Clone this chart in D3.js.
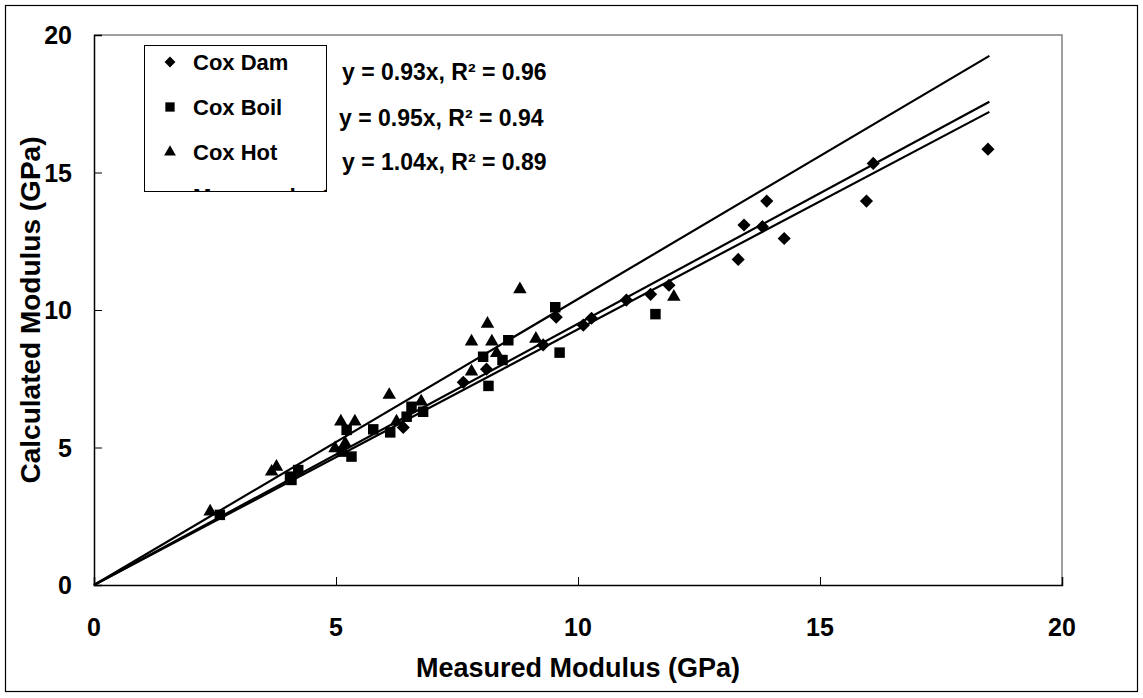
<!DOCTYPE html>
<html>
<head>
<meta charset="utf-8">
<script src="https://cdn.jsdelivr.net/npm/d3@7"></script>
<style>
  body { margin: 0; background: #fff; }
  svg { display: block; font-family: "Liberation Sans", Arial, sans-serif; font-weight: bold; }
</style>
</head>
<body>
<div class="container"></div>
<script>
// Cox Dam (diamonds)
const coxDam = [
  [6.39, 5.73], [7.63, 7.37], [8.11, 7.85], [9.28, 8.73], [9.55, 9.74],
  [10.11, 9.45], [10.28, 9.7], [11.0, 10.36], [11.5, 10.57], [11.88, 10.9],
  [13.31, 11.84], [13.43, 13.09], [13.81, 13.03], [13.9, 13.96], [14.26, 12.6],
  [15.96, 13.96], [16.1, 15.33], [18.47, 15.85]
];
// Cox Boil (squares)
const coxBoil = [
  [2.6, 2.55], [4.05, 3.94], [4.08, 3.82], [4.22, 4.18], [5.12, 4.85],
  [5.32, 4.67], [5.22, 5.64], [5.77, 5.66], [6.12, 5.55], [6.46, 6.12],
  [6.56, 6.48], [6.8, 6.3], [8.04, 8.3], [8.15, 7.24], [8.44, 8.18],
  [8.56, 8.9], [9.53, 10.1], [9.62, 8.45], [11.6, 9.85]
];
// Cox Hot (triangles)
const coxHot = [
  [2.4, 2.67], [3.67, 4.12], [3.77, 4.3], [4.98, 4.97], [5.19, 5.15],
  [5.1, 5.94], [5.39, 5.94], [6.25, 5.94], [6.1, 6.91], [6.76, 6.67],
  [7.8, 8.85], [7.8, 7.76], [8.13, 9.5], [8.22, 8.85], [8.32, 8.43],
  [8.8, 10.75], [9.13, 8.95], [11.98, 10.48]
];
// trendline slopes (through origin) and labels
const slopes = [1.04, 0.95, 0.93];
const trendEnd = 18.5;
const equations = ["y = 0.93x, R\u00b2 = 0.96", "y = 0.95x, R\u00b2 = 0.94", "y = 1.04x, R\u00b2 = 0.89"];
const seriesNames = ["Cox Dam", "Cox Boil", "Cox Hot"];
const ticks = [0, 5, 10, 15, 20];

const W = 1143, H = 698;
const plot = {left: 94, right: 1062, top: 35, bottom: 585};

const svg = d3.select("div.container").append("svg")
    .attr("width", W)
    .attr("height", H);

//outer frame
svg.append("rect")
    .attr("x", 5.5).attr("y", 5.5)
    .attr("width", 1132).attr("height", 686)
    .attr("fill", "none").attr("stroke", "#000").attr("stroke-width", 1.2);

const x = d3.scaleLinear().domain([0, 20]).range([plot.left, plot.right]);
const y = d3.scaleLinear().domain([0, 20]).range([plot.bottom, plot.top]);

//plot border top/right grey
svg.append("path")
    .attr("d", `M${plot.left},${plot.top}H${plot.right}V${plot.bottom}`)
    .attr("fill", "none").attr("stroke", "#808080").attr("stroke-width", 1.5);

//axes with inside ticks
const xAxis = svg.append("g")
    .attr("transform", `translate(0,${plot.bottom})`)
    .call(d3.axisTop(x).tickValues(ticks).tickSize(8).tickFormat(""));
const yAxis = svg.append("g")
    .attr("transform", `translate(${plot.left},0)`)
    .call(d3.axisRight(y).tickValues(ticks).tickSize(8).tickFormat(""));
[xAxis, yAxis].forEach(g => {
    g.select(".domain").attr("stroke", "#000").attr("stroke-width", 1.5);
    g.selectAll(".tick line").attr("stroke", "#000");
});

svg.append("g").selectAll("text")
    .data(ticks).enter().append("text")
    .attr("x", d => x(d))
    .attr("y", plot.bottom + 51)
    .attr("text-anchor", "middle")
    .style("font-size", "25px")
    .text(d => d);

svg.append("g").selectAll("text")
    .data(ticks).enter().append("text")
    .attr("x", 72)
    .attr("y", d => y(d) + 9)
    .attr("text-anchor", "end")
    .style("font-size", "25px")
    .text(d => d);

//axis titles
svg.append("text")
    .attr("x", (plot.left + plot.right) / 2)
    .attr("y", 677)
    .attr("text-anchor", "middle")
    .style("font-size", "27px")
    .text("Measured Modulus (GPa)");
svg.append("text")
    .attr("transform", `translate(40,${(plot.top + plot.bottom) / 2}) rotate(-90)`)
    .attr("text-anchor", "middle")
    .style("font-size", "28px")
    .text("Calculated Modulus (GPa)");

//trend lines
svg.append("g").selectAll("line")
    .data(slopes).enter().append("line")
    .attr("x1", x(0)).attr("y1", y(0))
    .attr("x2", x(trendEnd)).attr("y2", d => y(d * trendEnd))
    .attr("stroke", "#000").attr("stroke-width", 2.2);

//markers
const diamond = d3.symbol().type(d3.symbolDiamond2).size(110);
const square = d3.symbol().type(d3.symbolSquare2).size(140);
const triangle = d3.symbol().type(d3.symbolTriangle2).size(130);
const shapes = [diamond, square, triangle];

[coxDam, coxBoil, coxHot].forEach((data, i) => {
    svg.append("g").selectAll("path")
        .data(data).enter().append("path")
        .attr("d", shapes[i])
        .attr("transform", d => `translate(${x(d[0])},${y(d[1])})`)
        .attr("fill", "#000");
});

//legend
const legend = svg.append("g");
svg.append("clipPath").attr("id", "legclip")
    .append("rect").attr("x", 144).attr("y", 45).attr("width", 183).attr("height", 147);
legend.append("rect")
    .attr("x", 144.5).attr("y", 45.5).attr("width", 182).attr("height", 146)
    .attr("fill", "#fff").attr("stroke", "#000").attr("stroke-width", 1);
const legendRows = [62, 107, 152, 196];
const legendSizes = [75, 110, 100];
seriesNames.forEach((name, i) => {
    legend.append("path")
        .attr("d", d3.symbol().type([d3.symbolDiamond2, d3.symbolSquare2, d3.symbolTriangle2][i]).size(legendSizes[i]))
        .attr("transform", `translate(170,${legendRows[i]})`)
        .attr("fill", "#000");
    legend.append("text")
        .attr("x", 193).attr("y", legendRows[i] + 8)
        .style("font-size", "22px")
        .text(name);
});
legend.append("text")
    .attr("clip-path", "url(#legclip)")
    .attr("x", 193).attr("y", legendRows[3] + 8)
    .style("font-size", "22px")
    .text("Measured = Calc");

//equations
const eqPos = [[342, 80], [339, 126], [342, 170]];
svg.append("g").selectAll("text")
    .data(equations).enter().append("text")
    .attr("x", (d, i) => eqPos[i][0])
    .attr("y", (d, i) => eqPos[i][1])
    .style("font-size", "23px")
    .text(d => d);
</script>
</body>
</html>
